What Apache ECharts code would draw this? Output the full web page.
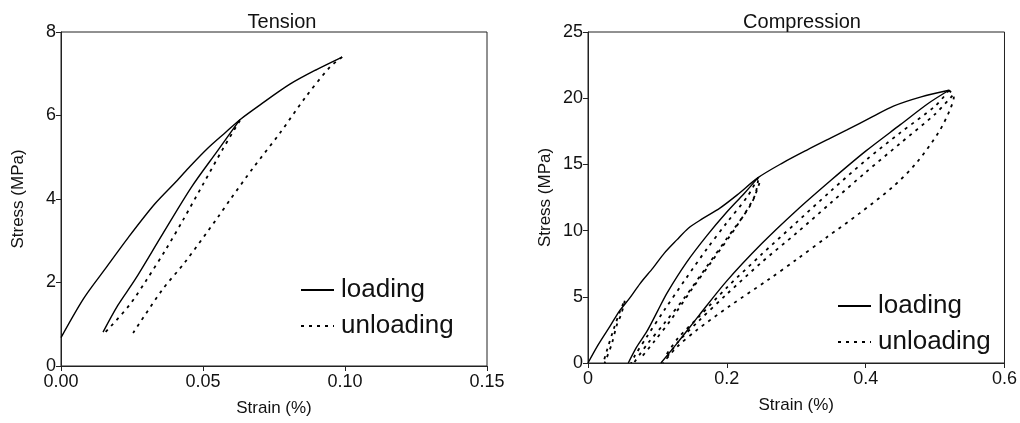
<!DOCTYPE html>
<html>
<head>
<meta charset="utf-8">
<script src="https://cdn.jsdelivr.net/npm/echarts@6/dist/echarts.min.js"></script>
<style>
  html, body { margin: 0; padding: 0; background: #fff; }
  #chart { width: 1020px; height: 423px; }
</style>
</head>
<body>
<div id="chart"></div>
<script>
// Tension: [strain %, stress MPa]
const tensionLoad1 = [[0, 0.68], [0.008, 1.62], [0.0155, 2.32], [0.0236, 3.07], [0.033, 3.88], [0.041, 4.45], [0.0454, 4.78], [0.0514, 5.2], [0.058, 5.6], [0.063, 5.9], [0.07, 6.25], [0.0806, 6.75], [0.09, 7.1], [0.099, 7.4]]
const tensionLoad2 = [[0.0148, 0.81], [0.02, 1.45], [0.026, 2.06], [0.0356, 3.14], [0.046, 4.29], [0.0553, 5.17], [0.063, 5.9]]
const tensionUnload1 = [[0.063, 5.88], [0.057, 5.2], [0.05, 4.35], [0.043, 3.5], [0.037, 2.8], [0.03, 2.05], [0.024, 1.45], [0.0155, 0.8]]
const tensionUnload2 = [[0.099, 7.4], [0.0947, 7.16], [0.0859, 6.42], [0.0771, 5.58], [0.0676, 4.74], [0.0595, 3.98], [0.0553, 3.57], [0.0437, 2.49], [0.0356, 1.82], [0.0254, 0.79]]

// Compression: [strain %, stress MPa]
const compLoad1 = [[0, 0], [0.015, 1.4], [0.032, 2.8], [0.045, 3.9], [0.06, 4.9], [0.075, 6.0], [0.094, 7.2], [0.11, 8.3], [0.128, 9.3], [0.145, 10.2], [0.165, 10.9], [0.19, 11.7], [0.215, 12.7], [0.245, 14.0], [0.28, 15.1], [0.316, 16.1], [0.35, 17.0], [0.373, 17.6], [0.41, 18.6], [0.44, 19.4], [0.48, 20.1], [0.52, 20.6]]
const compLoad2 = [[0.058, 0], [0.07, 1.2], [0.085, 2.4], [0.1, 3.9], [0.114, 5.3], [0.142, 7.6], [0.171, 9.6], [0.2, 11.4], [0.225, 12.8], [0.245, 14.0]]
const compLoad3 = [[0.105, 0], [0.13, 1.6], [0.16, 3.6], [0.2, 6.2], [0.25, 9.0], [0.3, 11.5], [0.35, 13.8], [0.4, 16.0], [0.45, 18.0], [0.49, 19.6], [0.52, 20.6]]
const compUnload1a = [[0.053, 4.7], [0.048, 3.7], [0.042, 2.95], [0.034, 1.4], [0.024, 0]]
const compUnload1b = [[0.051, 4.5], [0.046, 3.9], [0.036, 2.4], [0.027, 0.9], [0.022, 0]]
const compUnload2a = [[0.245, 14.0], [0.23, 12.6], [0.2, 10.6], [0.171, 8.6], [0.14, 6.3], [0.11, 4.0], [0.085, 2.0], [0.068, 0.6], [0.062, 0]]
const compUnload2b = [[0.247, 13.6], [0.235, 12.0], [0.2, 9.4], [0.17, 7.2], [0.14, 5.0], [0.11, 3.0], [0.085, 1.4], [0.066, 0]]
const compUnload2c = [[0.245, 13.8], [0.24, 12.6], [0.215, 10.4], [0.18, 7.8], [0.15, 5.6], [0.12, 3.3], [0.095, 1.6], [0.075, 0.3]]
const compUnload3a = [[0.52, 20.6], [0.5, 19.4], [0.45, 17.4], [0.4, 15.3], [0.35, 13.0], [0.3, 10.6], [0.25, 8.2], [0.2, 5.7], [0.16, 3.5], [0.13, 1.9], [0.11, 0.4]]
const compUnload3b = [[0.525, 20.2], [0.5, 18.8], [0.45, 16.6], [0.4, 14.4], [0.35, 12.1], [0.3, 9.8], [0.25, 7.6], [0.2, 5.2], [0.16, 3.2], [0.13, 1.6], [0.112, 0.3]]
const compUnload3c = [[0.52, 20.6], [0.527, 20.1], [0.522, 19.2], [0.506, 17.5], [0.473, 15.1], [0.439, 13.3], [0.391, 11.3], [0.344, 9.5], [0.3, 7.8], [0.26, 6.3], [0.204, 4.3], [0.157, 2.5], [0.128, 1.2], [0.108, 0]]

const tensionXTicks = [0, 0.05, 0.1, 0.15]
const compXTicks = [0, 0.2, 0.4, 0.6]

const font = 'Liberation Sans, Arial, sans-serif'
const ink = '#111'
const dotted = [3, 5]

function curve(name, data, grid) {
  return {
    name: name,
    type: 'line',
    xAxisIndex: grid,
    yAxisIndex: grid,
    data: data,
    symbol: 'none',
    smooth: 0.3,
    silent: true,
    lineStyle: { color: '#000', width: name === 'loading' ? 1.4 : 1.8, type: name === 'loading' ? 'solid' : dotted },
    itemStyle: { color: '#000' }
  }
}

function xAxis(grid, max, interval, fmt) {
  return {
    type: 'value', gridIndex: grid, min: 0, max: max, interval: interval,
    name: 'Strain (%)', nameLocation: 'middle', nameGap: 34,
    nameTextStyle: { fontFamily: font, fontSize: 17, color: ink },
    axisLine: { lineStyle: { color: '#222', width: 1 } },
    axisTick: { length: 5, lineStyle: { color: '#222' } },
    axisLabel: { fontFamily: font, fontSize: 18, color: ink, margin: 7, formatter: fmt },
    splitLine: { show: false }
  }
}

function yAxis(grid, max, interval) {
  return {
    type: 'value', gridIndex: grid, min: 0, max: max, interval: interval,
    name: 'Stress (MPa)', nameLocation: 'middle', nameGap: 34,
    nameTextStyle: { fontFamily: font, fontSize: 17, color: ink },
    axisLine: { lineStyle: { color: '#222', width: 1 } },
    axisTick: { length: 5, lineStyle: { color: '#222' } },
    axisLabel: { fontFamily: font, fontSize: 18, color: ink, margin: 5 },
    splitLine: { show: false }
  }
}

function legend(left, top) {
  return {
    data: ['loading', 'unloading'],
    orient: 'vertical', left: left, top: top, padding: 0,
    itemWidth: 33, itemHeight: 14, itemGap: 10,
    itemStyle: { opacity: 0 },
    selectedMode: false,
    textStyle: { fontFamily: font, fontSize: 26, color: ink, padding: [0, 0, 0, 2] }
  }
}

const chart = echarts.init(document.getElementById('chart'))
chart.setOption({
  animation: false,
  backgroundColor: '#fff',
  title: [
    { text: 'Tension', left: 277, top: 7, textAlign: 'center', textStyle: { fontFamily: font, fontSize: 20, fontWeight: 'normal', color: ink } },
    { text: 'Compression', left: 797, top: 7, textAlign: 'center', textStyle: { fontFamily: font, fontSize: 20, fontWeight: 'normal', color: ink } }
  ],
  legend: [legend(300, 277), legend(837, 293)],
  grid: [
    { left: 61, top: 32, width: 426, height: 334, show: true, borderColor: '#222', borderWidth: 1, backgroundColor: 'transparent' },
    { left: 588, top: 32, width: 417, height: 331, show: true, borderColor: '#222', borderWidth: 1, backgroundColor: 'transparent' }
  ],
  xAxis: [
    xAxis(0, tensionXTicks[3], 0.05, v => v.toFixed(2)),
    xAxis(1, compXTicks[3], 0.2, v => (v === 0 ? '0' : v.toFixed(1)))
  ],
  yAxis: [yAxis(0, 8, 2), yAxis(1, 25, 5)],
  series: [
    curve('loading', tensionLoad1, 0),
    curve('loading', tensionLoad2, 0),
    curve('unloading', tensionUnload1, 0),
    curve('unloading', tensionUnload2, 0),
    curve('loading', compLoad1, 1),
    curve('loading', compLoad2, 1),
    curve('loading', compLoad3, 1),
    curve('unloading', compUnload1a, 1),
    curve('unloading', compUnload1b, 1),
    curve('unloading', compUnload2a, 1),
    curve('unloading', compUnload2b, 1),
    curve('unloading', compUnload2c, 1),
    curve('unloading', compUnload3a, 1),
    curve('unloading', compUnload3b, 1),
    curve('unloading', compUnload3c, 1)
  ]
})
</script>
</body>
</html>
